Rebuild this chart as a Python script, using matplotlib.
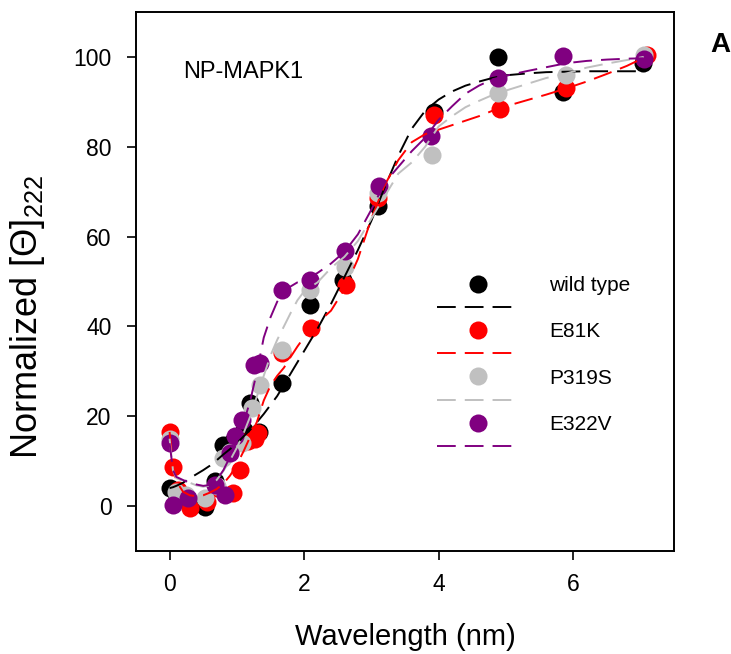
import matplotlib
matplotlib.use("Agg")
import matplotlib.pyplot as plt
from matplotlib.lines import Line2D

plt.rcParams['font.family'] = ['Liberation Sans', 'DejaVu Sans']
plt.rcParams['lines.scale_dashes'] = False

series_names = ["wild type", "E81K", "P319S", "E322V"]
series_colors = ["#000000", "#FF0000", "#C0C0C0", "#800080"]

# measured points
wt_x = [0.0, 0.1, 0.3, 0.52, 0.67, 0.8, 0.95, 1.1, 1.2, 1.33, 1.67, 2.09, 2.58, 3.1, 3.93, 4.88, 5.85, 7.04]
wt_y = [4.0, 3.0, 1.0, -0.3, 5.5, 13.5, 14.5, 17.0, 23.0, 16.5, 27.5, 44.8, 50.3, 66.7, 87.8, 100.0, 92.2, 98.6]

e81k_x = [0.0, 0.05, 0.12, 0.3, 0.55, 0.7, 0.94, 1.04, 1.17, 1.27, 1.32, 1.67, 2.1, 2.63, 3.1, 3.93, 4.91, 5.9, 7.1]
e81k_y = [16.5, 8.8, 3.5, -0.4, 1.0, 4.0, 3.0, 8.0, 14.5, 15.0, 16.2, 34.0, 39.6, 49.2, 68.5, 87.0, 88.4, 93.0, 100.5]

p319s_x = [0.0, 0.1, 0.25, 0.52, 0.7, 0.8, 0.9, 1.07, 1.22, 1.34, 1.67, 2.09, 2.61, 3.1, 3.9, 4.88, 5.9, 7.05]
p319s_y = [15.0, 3.2, 2.5, 1.8, 4.5, 10.7, 12.0, 14.0, 21.8, 26.9, 34.7, 48.1, 53.3, 69.7, 78.2, 91.9, 96.0, 100.5]

e322v_x = [0.0, 0.05, 0.27, 0.67, 0.82, 0.9, 0.97, 1.07, 1.25, 1.35, 1.67, 2.09, 2.61, 3.12, 3.88, 4.88, 5.85, 7.05]
e322v_y = [14.0, 0.2, 1.7, 4.7, 2.4, 11.8, 15.6, 19.2, 31.5, 31.8, 48.1, 50.3, 56.8, 71.3, 82.3, 95.3, 100.2, 99.5]

# fitted curves
fit_x = [0, 0.05, 0.1, 0.2, 0.3, 0.4, 0.5, 0.6, 0.7, 0.8, 0.9, 1.0, 1.1, 1.2, 1.3, 1.4, 1.5, 1.6, 1.7, 1.8,
         1.9, 2.0, 2.2, 2.4, 2.6, 2.8, 3.0, 3.2, 3.4, 3.6, 3.8, 4.0, 4.2, 4.4, 4.6, 4.8, 5.0, 5.3, 5.6, 5.9,
         6.2, 6.5, 6.8, 7.05]
wt_fit = [4.0, 4.2, 4.5, 5.2, 6.2, 7.1, 8.0, 9.0, 10.2, 11.5, 12.7, 14.0, 15.5, 17.0, 18.7, 20.5, 22.5, 24.5,
          27.0, 29.5, 32.0, 34.5, 39.5, 45.0, 51.0, 57.0, 63.5, 71.0, 78.0, 84.0, 88.0, 90.5, 92.3, 93.6, 94.5,
          95.3, 95.9, 96.3, 96.6, 96.7, 96.8, 96.8, 96.8, 96.8]
e81k_fit = [16.5, 9.0, 5.5, 3.2, 2.4, 2.2, 2.4, 3.0, 3.8, 5.0, 6.8, 9.2, 12.2, 15.5, 18.8, 23.5, 26.8, 29.0,
            30.8, 33.2, 35.5, 37.6, 40.8, 43.5, 48.3, 55.0, 64.0, 71.5, 77.0, 81.0, 82.8, 83.8, 84.8, 85.8,
            86.8, 88.0, 89.0, 90.3, 91.6, 93.0, 94.5, 96.2, 98.0, 99.8]
p319s_fit = [15.0, 8.0, 6.2, 5.6, 5.2, 4.6, 4.3, 4.6, 5.8, 7.8, 10.2, 13.0, 16.2, 20.0, 24.5, 29.0, 33.5, 37.0,
             40.0, 43.0, 45.8, 47.8, 49.8, 53.0, 55.5, 59.0, 64.0, 69.0, 74.0, 76.5, 80.0, 84.5, 86.8, 88.8,
             90.2, 91.5, 92.5, 93.9, 95.3, 96.3, 97.6, 98.5, 99.3, 100.0]
e322v_fit = [14.0, 8.0, 6.5, 5.8, 5.2, 4.8, 4.5, 4.7, 5.8, 8.0, 11.0, 14.5, 18.5, 23.5, 30.0, 37.5, 42.0, 45.5,
             47.6, 48.9, 49.8, 50.3, 51.9, 54.0, 56.6, 60.5, 66.0, 72.0, 75.5, 79.0, 82.0, 86.0, 89.0, 91.8,
             93.6, 95.0, 95.8, 96.8, 97.7, 98.6, 99.1, 99.4, 99.6, 99.7]

x_ticks = [0, 2, 4, 6]
y_ticks = [0, 20, 40, 60, 80, 100]

fig = plt.figure(figsize=(7.31, 6.54), dpi=100)
ax = fig.add_axes([0.186, 0.1575, 0.736, 0.8242])

pts = [(wt_x, wt_y), (e81k_x, e81k_y), (p319s_x, p319s_y), (e322v_x, e322v_y)]
fits = [wt_fit, e81k_fit, p319s_fit, e322v_fit]
DASH = (13.5, 6.5)
MS = 13
handles = []
labels = []
for (px, py), fy, c, name in zip(pts, fits, series_colors, series_names):
    ax.plot(px, py, 'o', color=c, markersize=MS, markeredgewidth=0, zorder=3)
    ax.plot(fit_x, fy, color=c, linewidth=1.4, dashes=DASH, zorder=4)
    handles.append(Line2D([], [], linestyle='none', marker='o', color=c, markersize=MS, markeredgewidth=0))
    labels.append(name)
    handles.append(Line2D([], [], color=c, linewidth=1.4, dashes=DASH))
    labels.append("")

ax.set_xlim(-0.5, 7.5)
ax.set_ylim(-10, 110)
ax.set_xticks(x_ticks)
ax.set_yticks(y_ticks)
ax.tick_params(direction='out', length=6.5, width=1.2, labelsize=16.5)
ax.tick_params(axis='x', pad=9)
ax.tick_params(axis='y', pad=11)
for s in ax.spines.values():
    s.set_linewidth(1.4)

ax.set_xlabel("Wavelength (nm)", fontsize=21, labelpad=20)
ax.set_ylabel("Normalized [\u0398]$_\\mathregular{222}$", fontsize=26)
ax.yaxis.set_label_coords(-0.165, 0.435)

ax.text(0.087, 0.889, "NP-MAPK1", transform=ax.transAxes, fontsize=17, va='center', ha='left')
fig.text(0.985, 0.931, "A", fontsize=20, fontweight='bold', ha='center', va='center')

leg = ax.legend(handles, labels, loc='upper left', bbox_to_anchor=(0.5595, 0.51), frameon=False,
                fontsize=15, handlelength=3.89, handletextpad=1.49, labelspacing=0.2, borderpad=0,
                borderaxespad=0)

fig.savefig("out.png", dpi=100)
